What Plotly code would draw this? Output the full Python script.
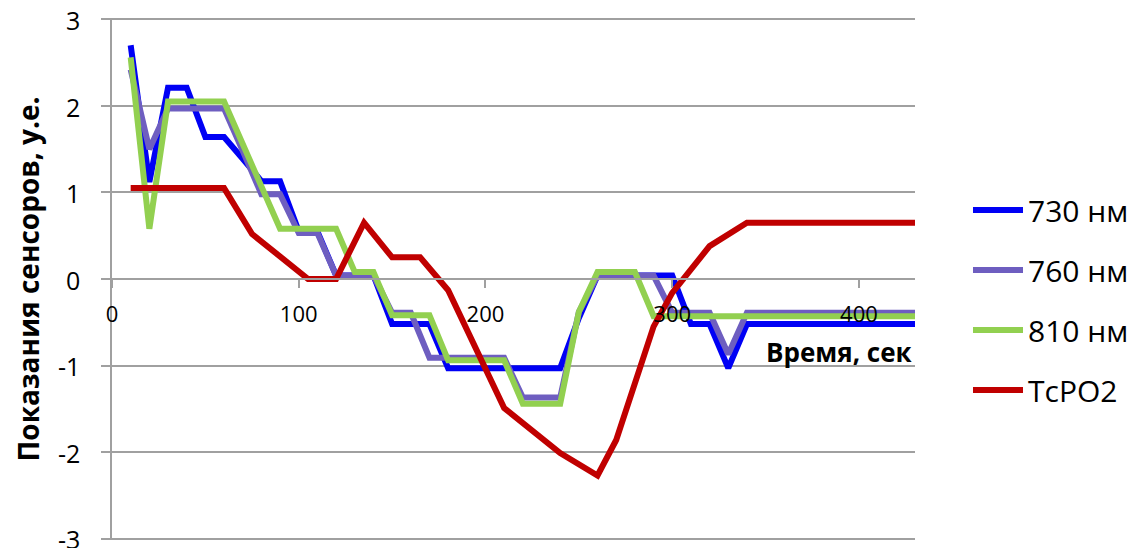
import plotly.graph_objects as go

# Sensor time axis (s) and readings for each wavelength
time_s = [10, 20, 30, 40, 50, 60, 70, 80, 90, 100,
          110, 120, 130, 140, 150, 160, 170, 180, 190, 200,
          210, 220, 230, 240, 250, 260, 270, 280, 290, 300,
          310, 320, 330, 340, 350, 360, 370, 380, 390, 400,
          410, 420, 430]

s730 = [2.70, 1.12, 2.21, 2.21, 1.64, 1.64, 1.39, 1.13, 1.13, 0.55,
        0.55, 0.04, 0.04, 0.04, -0.52, -0.52, -0.52, -1.03, -1.03, -1.03,
        -1.03, -1.03, -1.03, -1.03, -0.45, 0.04, 0.04, 0.04, 0.04, 0.04,
        -0.52, -0.52, -1.03, -0.52, -0.52, -0.52, -0.52, -0.52, -0.52, -0.52,
        -0.52, -0.52, -0.52]

s760 = [2.42, 1.50, 1.97, 1.97, 1.97, 1.97, 1.48, 0.98, 0.98, 0.53,
        0.53, 0.04, 0.04, 0.04, -0.39, -0.39, -0.91, -0.91, -0.91, -0.91,
        -0.91, -1.37, -1.37, -1.37, -0.38, 0.04, 0.04, 0.04, 0.04, -0.39,
        -0.39, -0.39, -0.87, -0.39, -0.39, -0.39, -0.39, -0.39, -0.39, -0.39,
        -0.39, -0.39, -0.39]

s810 = [2.56, 0.58, 2.05, 2.05, 2.05, 2.05, 1.56, 1.07, 0.58, 0.58,
        0.58, 0.58, 0.08, 0.08, -0.42, -0.42, -0.42, -0.94, -0.94, -0.94,
        -0.94, -1.44, -1.44, -1.44, -0.38, 0.08, 0.08, 0.08, -0.43, -0.43,
        -0.43, -0.43, -0.43, -0.43, -0.43, -0.43, -0.43, -0.43, -0.43, -0.43,
        -0.43, -0.43, -0.43]

# Transcutaneous oxygen tension, on its own time points
tcpo2_time = [10, 60, 75, 105, 120, 135, 150, 165, 180, 210,
              240, 260, 270, 290, 300, 320, 340, 430]
tcpo2 = [1.05, 1.05, 0.52, 0.0, 0.0, 0.65, 0.25, 0.25, -0.13, -1.49,
         -2.01, -2.27, -1.86, -0.55, -0.16, 0.38, 0.65, 0.65]

series_names = ["730 нм", "760 нм", "810 нм", "TcPO2"]
series_colors = ["#0000F5", "#6E5EC0", "#92D050", "#C00000"]

x_ticks = [0, 100, 200, 300, 400]
y_ticks = [-3, -2, -1, 0, 1, 2, 3]
y_tick_labels = ["-3", "-2", "-1", "0", "1", "2", "3"]

FONT = "Open Sans"
GRID = "#A0A0A0"

fig = go.Figure()
xs = [time_s, time_s, time_s, tcpo2_time]
ys = [s730, s760, s810, tcpo2]
for i, (name, color) in enumerate(zip(series_names, series_colors)):
    fig.add_trace(go.Scatter(
        x=xs[i], y=ys[i], mode="lines", name=name,
        legendgroup=name,
        line=dict(color=color, width=6),
    ))

fig.update_layout(
    width=1146, height=548,
    margin=dict(l=112, r=231, t=18, b=8, autoexpand=False),
    paper_bgcolor="white", plot_bgcolor="white",
    font=dict(family=FONT, color="#000000"),
    showlegend=True,
    legend=dict(
        x=1.066, y=0.46, xanchor="left", yanchor="middle",
        font=dict(size=30, family=FONT),
        tracegroupgap=18, itemwidth=50,
        bgcolor="rgba(0,0,0,0)",
    ),
    xaxis=dict(
        range=[0, 430], tickvals=x_ticks,
        anchor="free", position=0.5, automargin=False,
        showgrid=False, zeroline=False,
        showline=True, linecolor=GRID, linewidth=1.5,
        ticks="outside", ticklen=8, tickcolor=GRID, tickwidth=1.5,
        tickfont=dict(size=22, family=FONT),
        ticklabelstandoff=8,
    ),
    yaxis=dict(
        range=[-3.015, 3.015], tickvals=y_ticks, ticktext=y_tick_labels,
        automargin=False,
        showgrid=True, gridcolor=GRID, gridwidth=1.5,
        zeroline=False,
        showline=True, linecolor=GRID, linewidth=1.5,
        ticks="outside", ticklen=9, tickcolor=GRID, tickwidth=1.5,
        tickfont=dict(size=25, family=FONT),
        ticklabelstandoff=16, ticklabelshift=2, ticklabeloverflow="allow",
        title=dict(text="<b>Показания сенсоров, у.е.</b>",
                   font=dict(size=28, family=FONT), standoff=10),
    ),
    annotations=[dict(
        text="<b>Время, сек</b>", xref="paper", yref="y",
        x=1.0, y=-0.84, xanchor="right", yanchor="middle",
        showarrow=False, font=dict(size=26, family=FONT),
    )],
)

fig.write_html("out.html")
